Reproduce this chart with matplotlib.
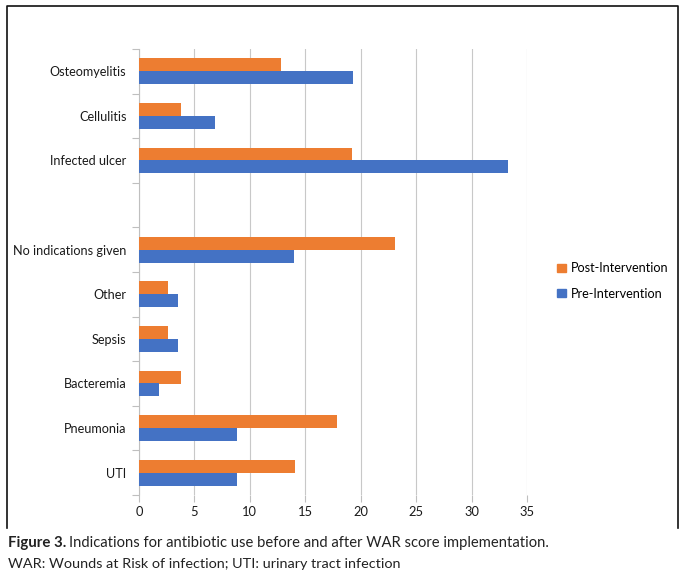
import numpy as np
import matplotlib.pyplot as plt
from matplotlib.patches import Patch
from matplotlib.lines import Line2D

# data (top to bottom)
categories = ['Osteomyelitis', 'Cellulitis', 'Infected ulcer', '',
              'No indications given', 'Other', 'Sepsis', 'Bacteremia',
              'Pneumonia', 'UTI']
post = [12.8, 3.8, 19.2, 0, 23.1, 2.6, 2.6, 3.8, 17.9, 14.1]
pre = [19.3, 6.9, 33.3, 0, 14.0, 3.5, 3.5, 1.8, 8.8, 8.8]
xticks = [0, 5, 10, 15, 20, 25, 30, 35]

orange = '#ED7D31'
blue = '#4472C4'

plt.rcParams['font.family'] = ['Lato', 'DejaVu Sans']

fig = plt.figure(figsize=(6.83, 5.74), dpi=100)
W, H = 683, 574
ax = fig.add_axes([139 / W, 1 - 495 / H, 388 / W, 446 / H])

y = np.arange(len(categories))
h = 0.29
ax.barh(y - h / 2, post, height=h, color=orange, zorder=3)
ax.barh(y + h / 2, pre, height=h, color=blue, zorder=3)

ax.set_ylim(len(categories) - 0.5, -0.5)
ax.set_xlim(0, 35)
ax.set_xticks(xticks)
ax.set_yticks(y)
ax.set_yticklabels(categories)
ax.set_yticks(np.arange(-0.5, len(categories)), minor=True)
ax.tick_params(axis='y', which='major', length=0, pad=9, labelsize=9.1, labelcolor='#1a1a1a')
ax.tick_params(axis='y', which='minor', length=5, color='#bfbfbf', width=0.8)
ax.tick_params(axis='x', length=5, color='#bfbfbf', width=0.8, labelsize=9.3, labelcolor='#1a1a1a', pad=3)
ax.grid(axis='x', color='#c8c8c8', linewidth=0.8, zorder=0)

for s in ['top', 'right', 'bottom']:
    ax.spines[s].set_visible(False)
ax.spines['left'].set_color('#bfbfbf')
ax.spines['left'].set_linewidth(0.8)

handles = [Patch(color=orange, label='Post-Intervention'),
           Patch(color=blue, label='Pre-Intervention')]
fig.legend(handles=handles, loc='center left', bbox_to_anchor=(546 / W, 1 - 281 / H),
           frameon=False, fontsize=9.1, handlelength=0.65, handleheight=0.65,
           handletextpad=0.45, labelspacing=1.05)

# outer frame (open at the bottom)
fl, fr, ft, fb = 6.5 / W, 677.5 / W, 1 - 6 / H, 1 - 528 / H
fig.add_artist(Line2D([fl, fl, fr, fr], [fb, ft, ft, fb], color='#111111',
                      linewidth=1.2, transform=fig.transFigure))

# caption
t = fig.text(8 / W, 1 - 543 / H, 'Figure 3.', fontsize=10.8, fontweight='bold',
             va='center', color='#222222')
fig.canvas.draw()
bb = t.get_window_extent()
fig.text((bb.x1 + 3) / W, 1 - 543 / H,
         'Indications for antibiotic use before and after WAR score implementation.',
         fontsize=10.6, va='center', color='#222222')
fig.text(8 / W, 1 - 564 / H, 'WAR: Wounds at Risk of infection; UTI: urinary tract infection',
         fontsize=10.4, va='center', color='#222222')

fig.savefig('out.png', dpi=100)
